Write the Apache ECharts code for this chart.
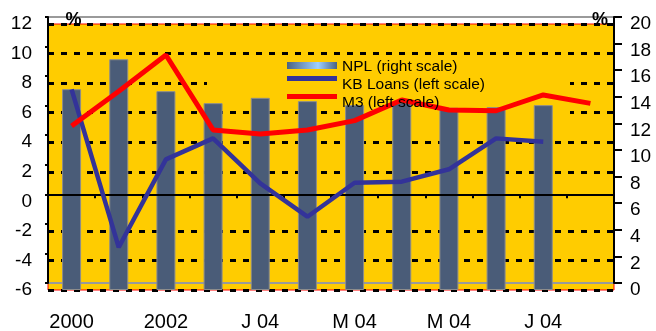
<!DOCTYPE html>
<html><head><meta charset="utf-8">
<script src="https://cdn.jsdelivr.net/npm/echarts/dist/echarts.min.js"></script>
<style>html,body{margin:0;padding:0;background:#fff}#c{width:656px;height:331px}</style>
</head><body><div id="c"></div>
<script>
// ---- data ----
const xLabels = ['2000', '', '2002', '', 'J 04', '', 'M 04', '', 'M 04', '', 'J 04', ''];
const seriesNames = ['NPL (right scale)', 'KB Loans (left scale)', 'M3 (left scale)'];
const nplRight = [15.1, 17.35, 14.95, 14.05, 14.45, 14.2, 13.9, 14.1, 13.7, 13.75, 13.9, null];
const kbLoansLeft = [7.58, -3.11, 2.84, 4.26, 1.22, -1.04, 1.26, 1.33, 2.17, 4.26, 4.04, null];
const m3Left = [5.1, 7.45, 9.9, 4.83, 4.56, 4.83, 5.46, 6.86, 6.18, 6.13, 7.2, 6.63];
const leftScale = { min: -6, max: 12, step: 2 };
const rightScale = { min: 0, max: 20, step: 2 };
const unitLabel = '%';

const FONT = 'Liberation Sans, Arial, sans-serif';
const YELLOW = '#ffcc00';
const chart = echarts.init(document.getElementById('c'), null, { renderer: 'canvas' });

// split-line colours: hide the one at 0 (zero line is drawn separately)
const nLeftTicks = (leftScale.max - leftScale.min) / leftScale.step + 1;
const splitColors = [];
for (let i = 0; i < nLeftTicks; i++) {
  const v = leftScale.min + i * leftScale.step;
  splitColors.push(v === 0 ? 'rgba(0,0,0,0)' : '#000');
}

const nplGradient = {
  type: 'linear', x: 0, y: 0, x2: 1, y2: 0,
  colorStops: [
    { offset: 0, color: '#4a6282' },
    { offset: 0.62, color: '#9fd0ff' },
    { offset: 1, color: '#4a6282' }
  ]
};

const option = {
  animation: false,
  grid: [
    { left: 48, right: 42, top: 24, height: 266, show: true, backgroundColor: YELLOW,
      borderColor: '#ff0000', borderWidth: 1, containLabel: false, outerBoundsMode: 'none', z: 0 },
    { left: 48, right: 42, top: 17, height: 266, show: true, backgroundColor: 'transparent',
      borderColor: '#9a9a9a', borderWidth: 2, containLabel: false, outerBoundsMode: 'none', z: 1 }
  ],
  xAxis: [
    { type: 'category', gridIndex: 0, data: xLabels, boundaryGap: true,
      axisLine: { show: false }, axisTick: { show: false },
      axisLabel: { interval: 0, fontSize: 20, color: '#000', fontFamily: FONT, margin: 22 },
      splitLine: { show: false } },
    { type: 'category', gridIndex: 1, data: xLabels, boundaryGap: true, z: 3,
      axisLine: { show: true, onZero: true, onZeroAxisIndex: 2, lineStyle: { color: '#000', width: 2 } },
      axisTick: { show: true, length: 4, lineStyle: { color: '#000', width: 2 } },
      axisLabel: { show: false }, splitLine: { show: false } }
  ],
  yAxis: [
    { type: 'value', gridIndex: 0, position: 'left', min: leftScale.min, max: leftScale.max, interval: leftScale.step,
      axisLine: { show: false }, axisTick: { show: false },
      axisLabel: { fontSize: 19, color: '#000', fontFamily: FONT, margin: 16 },
      splitLine: { show: true, lineStyle: { color: splitColors, width: 3, type: [6, 7] } } },
    { type: 'value', gridIndex: 0, position: 'right', min: rightScale.min, max: rightScale.max, interval: rightScale.step,
      axisLine: { show: false }, axisTick: { show: false },
      axisLabel: { fontSize: 19, color: '#000', fontFamily: FONT, margin: 16 },
      splitLine: { show: false } },
    { type: 'value', gridIndex: 1, position: 'left', min: leftScale.min, max: leftScale.max, interval: leftScale.step, z: 3,
      axisLine: { show: true, onZero: false, lineStyle: { color: '#000', width: 2 } },
      axisTick: { show: true, length: 3, lineStyle: { color: '#000', width: 2 } },
      axisLabel: { show: false }, splitLine: { show: false } },
    { type: 'value', gridIndex: 1, position: 'right', min: rightScale.min, max: rightScale.max, interval: rightScale.step, z: 3,
      axisLine: { show: true, onZero: false, lineStyle: { color: '#000', width: 2 } },
      axisTick: { show: true, length: 8, lineStyle: { color: '#000', width: 2 } },
      axisLabel: { show: false }, splitLine: { show: false } }
  ],
  legend: {
    orient: 'vertical', left: 287, top: 58, padding: 0, itemGap: 0,
    itemWidth: 50, itemHeight: 18, selectedMode: false, z: 6,
    textStyle: { fontSize: 15.5, color: '#000', fontFamily: FONT },
    data: [
      { name: seriesNames[0], icon: 'path://M0,0 L0.01,0 M0,4 L50,4 L50,11 L0,11 Z M50,18 L49.99,18',
        itemStyle: { color: nplGradient, borderWidth: 0 } },
      { name: seriesNames[1], icon: 'path://M0,0 L50,0 L50,5 L0,5 Z M50,18 L49.99,18',
        itemStyle: { color: '#333399', borderWidth: 0 } },
      { name: seriesNames[2], icon: 'path://M0,0 L50,0 L50,5 L0,5 Z M50,18 L49.99,18',
        itemStyle: { color: '#ff0000', borderWidth: 0 } }
    ]
  },
  graphic: [
    { type: 'rect', z: 1, silent: true, shape: { x: 207, y: 57, width: 363, height: 43 }, style: { fill: YELLOW } },
    { type: 'rect', z: 1, silent: true, shape: { x: 340, y: 99, width: 230, height: 19 }, style: { fill: YELLOW } },
    { type: 'text', z: 10, silent: true, x: 73.5, y: 20,
      style: { text: unitLabel, font: 'bold 18px ' + FONT, fill: '#000', align: 'center', verticalAlign: 'middle' } },
    { type: 'text', z: 10, silent: true, x: 600, y: 20,
      style: { text: unitLabel, font: 'bold 18px ' + FONT, fill: '#000', align: 'center', verticalAlign: 'middle' } }
  ],
  series: [
    { name: seriesNames[0], type: 'bar', xAxisIndex: 0, yAxisIndex: 1, data: nplRight, barWidth: 19,
      itemStyle: { color: '#4a5c78', borderColor: '#8c8c8c', borderWidth: 1 }, silent: true },
    { name: seriesNames[1], type: 'line', xAxisIndex: 0, yAxisIndex: 0, data: kbLoansLeft, z: 4,
      symbol: 'none', connectNulls: false, color: '#333399',
      lineStyle: { color: '#333399', width: 4.5 }, silent: true },
    { name: seriesNames[2], type: 'line', xAxisIndex: 0, yAxisIndex: 0, data: m3Left, z: 4,
      symbol: 'none', color: '#ff0000',
      lineStyle: { color: '#ff0000', width: 5 }, silent: true }
  ]
};
chart.setOption(option);
</script>
</body></html>
